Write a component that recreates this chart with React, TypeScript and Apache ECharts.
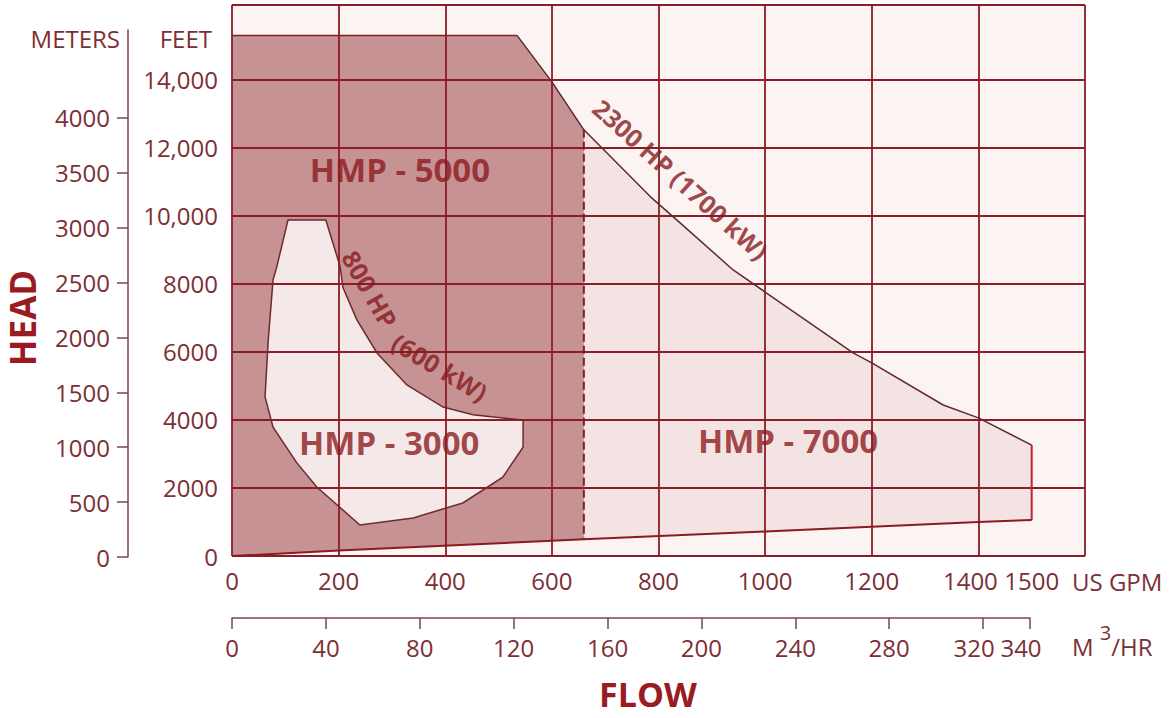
import { useEffect, useRef } from 'react';
import * as echarts from 'echarts';

// ---- axis ticks / labels ----
const GPM_TICKS = [0, 200, 400, 600, 800, 1000, 1200, 1400, 1500];
const GPM_GRID = [0, 200, 400, 600, 800, 1000, 1200, 1400, 1600];
const FEET_TICKS = [0, 2000, 4000, 6000, 8000, 10000, 12000, 14000];
const FEET_TICK_LABELS = ['0', '2000', '4000', '6000', '8000', '10,000', '12,000', '14,000'];
const FEET_GRID = [0, 2000, 4000, 6000, 8000, 10000, 12000, 14000, 16200];
const METER_TICKS = [0, 500, 1000, 1500, 2000, 2500, 3000, 3500, 4000];
const M3HR_TICKS = [0, 40, 80, 120, 160, 200, 240, 280, 320, 340];

// ---- envelope data (US GPM, feet) ----
const HMP_TOP_HEAD = 15300;
const CURVE_2300HP = [
  [535, 15300], [600, 13940], [660, 12530], [785, 10560], [840, 9800], [940, 8410],
  [1000, 7760], [1165, 5970], [1200, 5680], [1334, 4440], [1400, 4060], [1500, 3260],
];
const MIN_FLOW_LINE = [
  [0, 0], [200, 160], [600, 450], [660, 490], [1000, 720], [1200, 860], [1400, 1000], [1500, 1060],
];
const HMP5000_MAX_GPM = 660;
const HMP3000_OUTLINE = [
  [105, 9880], [176, 9880], [203, 8500], [208, 7900], [234, 6950], [272, 5970], [328, 5030],
  [396, 4380], [452, 4150], [508, 4060], [546, 4000], [546, 3200], [508, 2320], [433, 1560],
  [340, 1120], [240, 910], [159, 2030], [122, 2730], [77, 3790], [62, 4680], [68, 6350],
  [77, 8120], [84, 8500],
];

// ---- text annotations (name, GPM, feet) ----
const REGION_LABELS = [
  { name: 'HMP - 5000', gpm: 315, ft: 11350 },
  { name: 'HMP - 3000', gpm: 295, ft: 3330 },
  { name: 'HMP - 7000', gpm: 1043, ft: 3410 },
];
const CURVE_LABELS = [
  { name: '2300 HP (1700 kW)', gpm: 842, ft: 11080 },
  { name: '800 HP', gpm: 259, ft: 7850 },
  { name: '(600 kW)', gpm: 390, ft: 5560 },
];
const CURVE_LABEL_ROTATION = [-42, -60, -31];

const FONT = "'Open Sans', 'Noto Sans', sans-serif";
const AXIS_TEXT = '#7c2f34';
const TITLE = '#9a1b21';
const GRIDLINE = '#8c1c25';
const BG = '#fbf4f3';

export default function App() {
  const ref = useRef<HTMLDivElement>(null);

  useEffect(() => {
    if (!ref.current) return;
    const chart = echarts.init(ref.current, null, { renderer: 'svg' });

    const curveTo5000 = CURVE_2300HP.filter((p) => p[0] <= HMP5000_MAX_GPM);
    const minTo5000 = MIN_FLOW_LINE.filter((p) => p[0] <= HMP5000_MAX_GPM);
    const hmp7000 = [[0, HMP_TOP_HEAD], ...CURVE_2300HP, ...MIN_FLOW_LINE.slice().reverse()];
    const hmp5000 = [[0, HMP_TOP_HEAD], ...curveTo5000, ...minTo5000.slice().reverse()];
    const dash = [curveTo5000[curveTo5000.length - 1], minTo5000[minTo5000.length - 1]];
    const lastCurve = CURVE_2300HP[CURVE_2300HP.length - 1];
    const lastMin = MIN_FLOW_LINE[MIN_FLOW_LINE.length - 1];

    const polygon = (pts: number[][], fill: string, stroke: string, lw: number, z: number) => ({
      type: 'custom',
      xAxisIndex: 0,
      yAxisIndex: 0,
      z,
      silent: true,
      data: pts,
      renderItem: (params: any, api: any) => {
        if (params.dataIndex !== 0) return null;
        return {
          type: 'polygon',
          shape: { points: pts.map((p) => api.coord(p)) },
          style: { fill, stroke, lineWidth: lw },
        };
      },
    });

    const line = (pts: number[][], color: string, width: number, type: string = 'solid') => ({
      type: 'line',
      xAxisIndex: 0,
      yAxisIndex: 0,
      z: 5,
      silent: true,
      symbol: 'none',
      data: pts,
      lineStyle: { color, width, type },
    });

    const axText = { color: AXIS_TEXT, fontSize: 24, fontFamily: FONT };

    chart.setOption({
      animation: false,
      grid: [
        { left: 232, top: 5, width: 853, height: 551, show: true, backgroundColor: BG, borderWidth: 0 },
        { left: 128, top: 30, width: 2, height: 527, show: false },
        { left: 232, top: 617, width: 798, height: 1, show: false },
      ],
      xAxis: [
        {
          gridIndex: 0, type: 'value', min: 0, max: 1600, interval: 200,
          axisLine: { show: false }, axisTick: { show: false }, splitLine: { show: false },
          axisLabel: {
            ...axText, margin: 12, customValues: GPM_TICKS,
            formatter: (v: number) => (v === 1400 ? '{s|1400}' : String(v)),
            rich: { s: { ...axText, padding: [0, 16, 0, 0] } },
          },
          name: 'US GPM', nameLocation: 'end', nameGap: -13,
          nameTextStyle: { ...axText, align: 'left', verticalAlign: 'top', padding: [13, 0, 0, 0] },
        },
        { gridIndex: 1, type: 'value', show: false, min: 0, max: 1 },
        {
          gridIndex: 2, type: 'value', min: 0, max: 340, interval: 40,
          axisLine: { show: true, lineStyle: { color: '#7e4448', width: 1.5 } },
          axisTick: { show: true, length: 11, customValues: M3HR_TICKS, lineStyle: { color: '#7e4448', width: 1.5 } },
          splitLine: { show: false },
          axisLabel: {
            ...axText, margin: 17, customValues: M3HR_TICKS,
            formatter: (v: number) => (v >= 320 ? '{s|' + v + '}' : String(v)),
            rich: { s: { ...axText, padding: [0, 18, 0, 0] } },
          },
          name: '{m|M }{s|3}{m|/HR}', nameLocation: 'end', nameGap: 42,
          nameTextStyle: {
            align: 'left', verticalAlign: 'top', padding: [4, 0, 0, 0],
            rich: {
              m: { ...axText, lineHeight: 36, verticalAlign: 'bottom' },
              s: { ...axText, fontSize: 20, lineHeight: 20, verticalAlign: 'top' },
            },
          },
        },
      ],
      yAxis: [
        {
          gridIndex: 0, type: 'value', min: 0, max: 16200, interval: 2000,
          axisLine: { show: false }, axisTick: { show: false }, splitLine: { show: false },
          axisLabel: {
            ...axText, margin: 14, customValues: FEET_TICKS,
            formatter: (v: number) => FEET_TICK_LABELS[FEET_TICKS.indexOf(v)] ?? '',
          },
          name: 'FEET', nameLocation: 'end', nameGap: -33,
          nameTextStyle: { ...axText, align: 'right', verticalAlign: 'middle', padding: [0, 20, 0, 0] },
        },
        {
          gridIndex: 1, type: 'value', min: 0, max: 4800, interval: 500, position: 'left',
          axisLine: { show: true, lineStyle: { color: '#7e4448', width: 1.5 } },
          axisTick: { show: true, length: 11, customValues: METER_TICKS, lineStyle: { color: '#7e4448', width: 1.5 } },
          splitLine: { show: false },
          axisLabel: { ...axText, margin: 18, customValues: METER_TICKS, formatter: (v: number) => String(v) },
          name: 'METERS', nameLocation: 'end', nameGap: -8,
          nameTextStyle: { ...axText, align: 'right', verticalAlign: 'middle', padding: [0, 8, 0, 0] },
        },
        { gridIndex: 2, type: 'value', show: false, min: 0, max: 1 },
      ],
      graphic: [
        {
          type: 'text', x: 22, y: 318, rotation: Math.PI / 2,
          style: { text: 'HEAD', fill: TITLE, font: `bold 35px ${FONT}`, align: 'center', verticalAlign: 'middle' },
        },
        {
          type: 'text', x: 648, y: 694,
          style: { text: 'FLOW', fill: TITLE, font: `bold 34px ${FONT}`, align: 'center', verticalAlign: 'middle' },
        },
      ],
      series: [
        polygon(hmp7000, '#f3e4e3', 'none', 0, 1),
        polygon(hmp5000, '#c79294', 'none', 0, 2),
        {
          type: 'line', xAxisIndex: 0, yAxisIndex: 0, z: 3, silent: true, data: [],
          markLine: {
            silent: true, symbol: ['none', 'none'], label: { show: false },
            lineStyle: { color: GRIDLINE, width: 1.8, type: 'solid' },
            emphasis: { disabled: true },
            data: [
              ...GPM_GRID.map((v) => ({ xAxis: v })),
              ...FEET_GRID.map((v) => ({ yAxis: v })),
            ],
          },
        },
        polygon(HMP3000_OUTLINE, '#f4e8e8', '#6e2a2c', 1.5, 4),
        line([[0, HMP_TOP_HEAD], CURVE_2300HP[0]], '#7a2228', 1.5),
        line(CURVE_2300HP, '#5e2a2c', 1.5),
        line([lastCurve, lastMin], '#c0203a', 2),
        line(MIN_FLOW_LINE, '#8b1a22', 2),
        line(dash, '#7a1f25', 2, 'dashed'),
        {
          type: 'scatter', xAxisIndex: 0, yAxisIndex: 0, z: 6, silent: true,
          symbolSize: 1, itemStyle: { color: 'rgba(0,0,0,0)' },
          label: {
            show: true, position: 'inside', formatter: (p: any) => p.name,
            color: '#8c1a1f', fontFamily: FONT, fontWeight: 'bold', fontSize: 33,
          },
          data: REGION_LABELS.map((l) => ({ name: l.name, value: [l.gpm, l.ft] })),
        },
        {
          type: 'scatter', xAxisIndex: 0, yAxisIndex: 0, z: 6, silent: true,
          symbolSize: 1, itemStyle: { color: 'rgba(0,0,0,0)' },
          label: {
            show: true, position: 'inside', formatter: (p: any) => p.name,
            color: '#861a1f', fontFamily: FONT, fontWeight: 'bold', fontSize: 25,
          },
          data: CURVE_LABELS.map((l, i) => ({
            name: l.name, value: [l.gpm, l.ft], label: { rotate: CURVE_LABEL_ROTATION[i] },
          })),
        },
      ],
    });

    return () => chart.dispose();
  }, []);

  return (
    <div
      ref={ref}
      style={{ position: 'absolute', left: 0, top: 0, width: 1170, height: 718, background: '#ffffff' }}
    />
  );
}
